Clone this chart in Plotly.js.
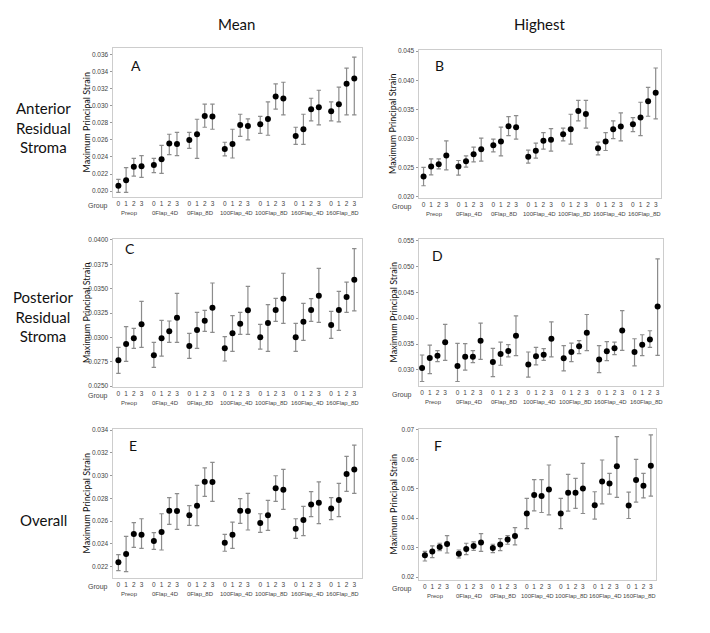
<!DOCTYPE html>
<html><head><meta charset="utf-8">
<script src="https://cdn.plot.ly/plotly-3.0.1.min.js"></script>
<style>html,body{margin:0;padding:0;background:#fff}#chart{width:710px;height:633px}</style>
</head><body><div id="chart"></div>
<script>
const groups = ['Preop','0Flap_4D','0Flap_8D','100Flap_4D','100Flap_8D','160Flap_4D','160Flap_8D'];
const levels = ['0','1','2','3'];

const meanA = [0.02063,0.02126,0.02286,0.02290, 0.02306,0.02373,0.02557,0.02553, 0.02600,0.02667,0.02882,0.02875, 0.02494,0.02553,0.02776,0.02765, 0.02784,0.02847,0.03110,0.03086, 0.02647,0.02726,0.02961,0.02984, 0.02937,0.03020,0.03259,0.03322];
const upA   = [0.02137,0.02275,0.02384,0.02416, 0.02384,0.02537,0.02667,0.02690, 0.02690,0.02843,0.03020,0.03020, 0.02573,0.02726,0.02902,0.02847, 0.02878,0.03047,0.03259,0.03278, 0.02749,0.02902,0.03090,0.03184, 0.03047,0.03220,0.03443,0.03573];
const lowA  = [0.01984,0.01984,0.02176,0.02161, 0.02216,0.02208,0.02427,0.02416, 0.02502,0.02384,0.02749,0.02726, 0.02412,0.02388,0.02643,0.02600, 0.02678,0.02655,0.02961,0.02894, 0.02549,0.02549,0.02824,0.02776, 0.02824,0.02812,0.02894,0.02894];

const meanB = [0.02350,0.02521,0.02561,0.02709, 0.02521,0.02612,0.02732,0.02818, 0.02886,0.02949,0.03212,0.03195, 0.02687,0.02789,0.02961,0.02978, 0.03075,0.03160,0.03474,0.03423, 0.02835,0.02949,0.03160,0.03206, 0.03246,0.03360,0.03640,0.03788];
const upB   = [0.02504,0.02652,0.02652,0.02961, 0.02624,0.02704,0.02852,0.03006, 0.02989,0.03195,0.03377,0.03394, 0.02801,0.02921,0.03103,0.03172, 0.03178,0.03417,0.03657,0.03657, 0.02938,0.03103,0.03303,0.03440, 0.03360,0.03623,0.03880,0.04211];
const lowB  = [0.02190,0.02378,0.02481,0.02464, 0.02373,0.02510,0.02601,0.02612, 0.02772,0.02704,0.03052,0.02989, 0.02578,0.02664,0.02818,0.02784, 0.02961,0.02903,0.03303,0.03178, 0.02721,0.02795,0.03000,0.02961, 0.03120,0.03052,0.03383,0.03337];

const meanC = [0.02764,0.02932,0.02990,0.03134, 0.02815,0.02990,0.03062,0.03202, 0.02911,0.03075,0.03171,0.03305, 0.02887,0.03041,0.03140,0.03277, 0.03000,0.03147,0.03281,0.03397, 0.03000,0.03161,0.03281,0.03428, 0.03127,0.03281,0.03414,0.03592];
const upC   = [0.02897,0.03110,0.03092,0.03370, 0.02949,0.03175,0.03168,0.03452, 0.03041,0.03257,0.03277,0.03558, 0.03007,0.03223,0.03257,0.03524, 0.03134,0.03336,0.03401,0.03658, 0.03144,0.03349,0.03397,0.03709, 0.03267,0.03473,0.03568,0.03911];
const lowC  = [0.02630,0.02753,0.02887,0.02897, 0.02692,0.02808,0.02949,0.02949, 0.02784,0.02887,0.03062,0.03051, 0.02757,0.02856,0.03031,0.03031, 0.02880,0.02856,0.03164,0.03144, 0.02856,0.02969,0.03164,0.03154, 0.02990,0.03072,0.03257,0.03271];

const meanD = [0.03040,0.03232,0.03276,0.03533, 0.03078,0.03257,0.03257,0.03565, 0.03155,0.03309,0.03366,0.03661, 0.03104,0.03264,0.03296,0.03603, 0.03225,0.03347,0.03456,0.03719, 0.03200,0.03360,0.03417,0.03763, 0.03347,0.03488,0.03590,0.04225];
const upD   = [0.03289,0.03481,0.03373,0.03879, 0.03514,0.03507,0.03373,0.03904, 0.03417,0.03539,0.03488,0.04045, 0.03347,0.03437,0.03411,0.03930, 0.03469,0.03520,0.03565,0.04071, 0.03469,0.03546,0.03539,0.04148, 0.03603,0.03680,0.03757,0.05147];
const lowD  = [0.02777,0.02931,0.03161,0.03187, 0.02777,0.02995,0.03142,0.03206, 0.02873,0.03091,0.03251,0.03277, 0.02860,0.03097,0.03187,0.03251, 0.02982,0.03161,0.03315,0.03373, 0.02950,0.03180,0.03296,0.03379, 0.03078,0.03277,0.03437,0.03283];

const meanE = [0.02238,0.02311,0.02487,0.02481, 0.02425,0.02504,0.02692,0.02689, 0.02651,0.02736,0.02946,0.02943, 0.02411,0.02481,0.02692,0.02689, 0.02583,0.02651,0.02888,0.02876, 0.02534,0.02610,0.02747,0.02762, 0.02712,0.02785,0.03014,0.03055];
const upE   = [0.02305,0.02466,0.02586,0.02621, 0.02499,0.02665,0.02806,0.02841, 0.02736,0.02914,0.03069,0.03116, 0.02484,0.02592,0.02797,0.02844, 0.02665,0.02782,0.02999,0.03055, 0.02621,0.02730,0.02859,0.02946, 0.02806,0.02932,0.03169,0.03268];
const lowE  = [0.02165,0.02156,0.02370,0.02361, 0.02352,0.02346,0.02572,0.02528, 0.02563,0.02560,0.02818,0.02774, 0.02335,0.02361,0.02581,0.02522, 0.02501,0.02519,0.02774,0.02703, 0.02449,0.02472,0.02639,0.02578, 0.02613,0.02639,0.02861,0.02844];

const meanF = [0.02739,0.02864,0.03023,0.03125, 0.02795,0.02955,0.03057,0.03170, 0.02989,0.03102,0.03273,0.03398, 0.04159,0.04784,0.04750,0.04977, 0.04159,0.04864,0.04864,0.05011, 0.04443,0.05250,0.05182,0.05768, 0.04432,0.05295,0.05102,0.05784];
const upF   = [0.02875,0.03057,0.03148,0.03409, 0.02920,0.03148,0.03193,0.03477, 0.03114,0.03307,0.03409,0.03682, 0.04670,0.05307,0.05307,0.05807, 0.04670,0.05489,0.05352,0.05864, 0.04898,0.05977,0.05523,0.06773, 0.04886,0.06000,0.05523,0.06830];
const lowF  = [0.02545,0.02659,0.02898,0.02818, 0.02648,0.02761,0.02909,0.02875, 0.02830,0.02898,0.03114,0.03091, 0.03648,0.04250,0.04193,0.04114, 0.03648,0.04239,0.04330,0.04159, 0.03966,0.04489,0.04818,0.04705, 0.03989,0.04545,0.04693,0.04750];

const columnTitles = ['Mean','Highest'];
const rowTitles = ['Anterior<br>Residual<br>Stroma','Posterior<br>Residual<br>Stroma','Overall'];
const yTitle = 'Maximum Principal Strain';

const W = 710, H = 633, GAP = 4.6;
const px = v => v / W, py = v => 1 - v / H;
const xs = [];
groups.forEach((g, gi) => levels.forEach((l, li) => xs.push(gi * GAP + li)));
const tickTxt = groups.flatMap(() => levels);

const panels = [
  {lab:'A', m:meanA, u:upA, l:lowA, x0:113, x1:362, t:48,  b:197, yr:[0.0193,0.0368], xr:[-0.7,31.6], dt:0.002,  f:'.3f', tx:0.020},
  {lab:'B', m:meanB, u:upB, l:lowB, x0:419, x1:661, t:50,  b:198, yr:[0.0198,0.0452], xr:[-0.6,31.3], dt:0.005,  f:'.3f', tx:0.020},
  {lab:'C', m:meanC, u:upC, l:lowC, x0:113, x1:362, t:239, b:387, yr:[0.0249,0.0401], xr:[-0.7,31.6], dt:0.0025, f:'.4f', tx:0.025},
  {lab:'D', m:meanD, u:upD, l:lowD, x0:419, x1:663, t:239, b:386, yr:[0.0269,0.0553], xr:[-0.4,31.3], dt:0.005,  f:'.3f', tx:0.030},
  {lab:'E', m:meanE, u:upE, l:lowE, x0:113, x1:362, t:429, b:578, yr:[0.0210,0.0341], xr:[-0.7,31.6], dt:0.002,  f:'.3f', tx:0.022},
  {lab:'F', m:meanF, u:upF, l:lowF, x0:419, x1:656, t:429, b:580, yr:[0.019,0.0703],  xr:[-0.8,31.3], dt:0.01,   f:'.2f', tx:0.02}
];
const letterPos = [[136,66],[440,65],[130,248],[438,255],[133,445],[438,445]];

const data = [], annotations = [];
const layout = {
  width: W, height: H, margin:{l:0,r:0,t:0,b:0},
  paper_bgcolor:'#fff', plot_bgcolor:'#fff', showlegend:false,
  font:{family:'Liberation Sans, Arial, sans-serif', color:'#333'}
};
const tickFont = {family:'Liberation Sans, Arial, sans-serif', size:6.5, color:'#444'};
const lato = 'Lato, Noto Sans, sans-serif';

panels.forEach((p, i) => {
  const k = i + 1, xa = 'x' + (k === 1 ? '' : k), ya = 'y' + (k === 1 ? '' : k);
  data.push({
    type:'scatter', mode:'markers', x: xs, y: p.m, xaxis: xa, yaxis: ya,
    marker:{color:'#000', size:6},
    error_y:{type:'data', symmetric:false,
      array: p.m.map((v, j) => p.u[j] - v),
      arrayminus: p.m.map((v, j) => v - p.l[j]),
      color:'#8c8c8c', thickness:1.2, width:2.2}
  });
  layout['xaxis' + (k === 1 ? '' : k)] = {
    domain:[px(p.x0), px(p.x1)], range:p.xr, anchor:ya,
    showgrid:false, zeroline:false, showline:true, mirror:true, linecolor:'#cdcdcd', linewidth:1,
    tickmode:'array', tickvals: xs, ticktext: tickTxt, ticks:'', tickfont: tickFont
  };
  layout['yaxis' + (k === 1 ? '' : k)] = {
    domain:[py(p.b), py(p.t)], range:p.yr, anchor:xa,
    showgrid:false, zeroline:false, showline:true, mirror:true, linecolor:'#cdcdcd', linewidth:1,
    tick0:p.tx, dtick:p.dt, tickformat:p.f, ticks:'outside', ticklen:2.5, tickcolor:'#999',
    tickfont: tickFont
  };
  groups.forEach((g, gi) => annotations.push({
    text:g, xref:xa, yref:'paper', x: gi * GAP + 1.5, y: py(p.b + 16),
    showarrow:false, xanchor:'center', yanchor:'middle',
    font:{family:'Liberation Sans Narrow, Liberation Sans, Arial, sans-serif', size:6, color:'#444'}
  }));
  annotations.push({text:'Group', xref:'paper', yref:'paper', x: px(p.x0 < 300 ? 98 : 402), y: py(p.b + 8.5),
    showarrow:false, xanchor:'center', yanchor:'middle',
    font:{family:'Liberation Sans, Arial, sans-serif', size:7, color:'#444'}});
  annotations.push({text:yTitle, xref:'paper', yref:'paper', x: px(p.x0 < 300 ? 86 : 393), y: py((p.t + p.b) / 2),
    showarrow:false, textangle:-90, xanchor:'center', yanchor:'middle',
    font:{family:lato, size:9, color:'#111'}});
  annotations.push({text:p.lab, xref:'paper', yref:'paper', x: px(letterPos[i][0]), y: py(letterPos[i][1]),
    showarrow:false, xanchor:'center', yanchor:'middle',
    font:{family:lato, size:14, color:'#111'}});
});

columnTitles.forEach((t, i) => annotations.push({text:t, xref:'paper', yref:'paper',
  x: px(i === 0 ? 236 : 540), y: py(24), showarrow:false, xanchor:'center', yanchor:'middle',
  font:{family:lato, size:15, color:'#111'}}));
const rowY = [128, 316, 520];
rowTitles.forEach((t, i) => annotations.push({text:t, xref:'paper', yref:'paper',
  x: px(43), y: py(rowY[i]), showarrow:false, xanchor:'center', yanchor:'middle',
  font:{family:lato, size:15, color:'#111'}}));

layout.annotations = annotations;
Plotly.newPlot('chart', data, layout, {displayModeBar:false, staticPlot:true});
</script></body></html>
